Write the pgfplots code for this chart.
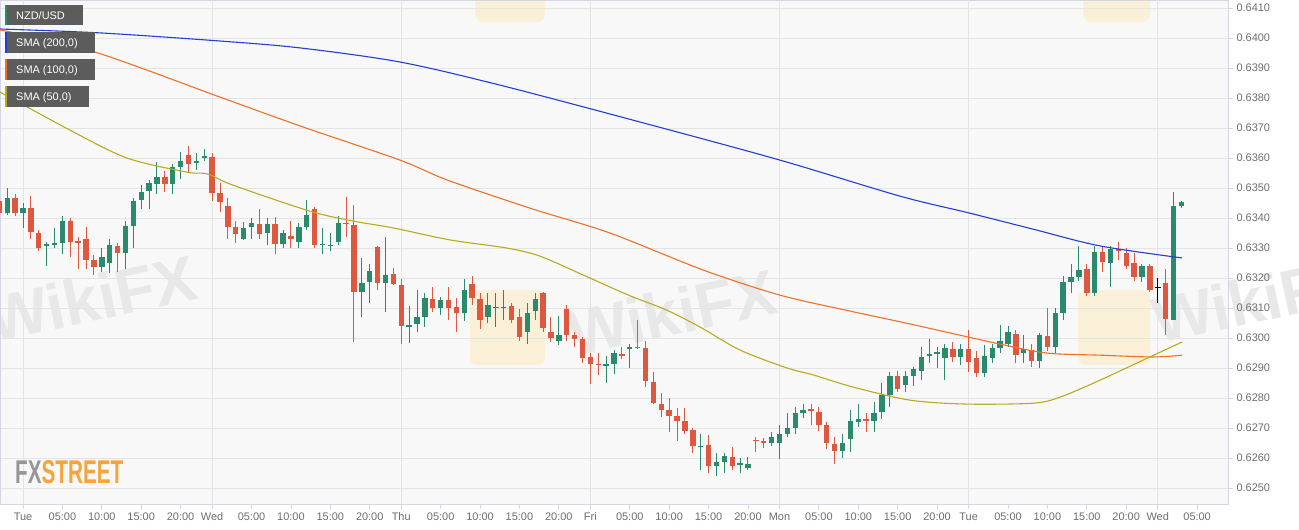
\documentclass[border=0pt]{standalone}
\usepackage{pgfplots}
\pgfplotsset{compat=1.18}
\usepackage{pgfplotstable}
\usepackage{fontspec}
\setmainfont{Liberation Sans}
\setsansfont{Liberation Sans}

\definecolor{cgreen}{RGB}{42,138,110}
\definecolor{cred}{RGB}{222,88,64}
\definecolor{sma200}{RGB}{35,62,215}
\definecolor{sma100}{RGB}{240,112,40}
\definecolor{sma50}{RGB}{186,170,32}
\definecolor{plotbg}{RGB}{248,248,248}
\definecolor{gridcol}{RGB}{228,228,228}
\definecolor{framecol}{RGB}{212,214,228}
\definecolor{tickcol}{RGB}{110,110,110}
\definecolor{legbg}{RGB}{92,92,92}
\definecolor{wmgray}{RGB}{232,232,232}
\definecolor{wmyellow}{RGB}{250,240,215}

% hourly candles, t = hours since Tue 00:00
\pgfplotstableread{
t o h l c
-3 0.63458 0.63466 0.63391 0.63416
-2 0.63416 0.63499 0.63410 0.63466
-1 0.63466 0.63479 0.63408 0.63418
0 0.63416 0.63449 0.63366 0.63432
1 0.63432 0.63474 0.63329 0.63352
2 0.63351 0.63360 0.63290 0.63301
3 0.63306 0.63319 0.63240 0.63312
4 0.63310 0.63368 0.63299 0.63316
5 0.63316 0.63408 0.63279 0.63390
6 0.63391 0.63399 0.63269 0.63321
7 0.63322 0.63338 0.63230 0.63318
8 0.63330 0.63369 0.63230 0.63261
9 0.63261 0.63277 0.63210 0.63238
10 0.63238 0.63299 0.63221 0.63270
11 0.63251 0.63330 0.63218 0.63309
12 0.63307 0.63316 0.63219 0.63284
13 0.63284 0.63390 0.63229 0.63372
14 0.63372 0.63468 0.63299 0.63457
15 0.63459 0.63510 0.63429 0.63488
16 0.63489 0.63527 0.63429 0.63516
17 0.63513 0.63588 0.63480 0.63537
18 0.63536 0.63558 0.63488 0.63513
19 0.63512 0.63579 0.63479 0.63571
20 0.63571 0.63621 0.63529 0.63590
21 0.63610 0.63640 0.63549 0.63581
22 0.63584 0.63618 0.63560 0.63590
23 0.63601 0.63629 0.63590 0.63607
24 0.63604 0.63618 0.63458 0.63482
25 0.63482 0.63516 0.63419 0.63452
26 0.63440 0.63468 0.63329 0.63369
27 0.63369 0.63390 0.63318 0.63346
28 0.63330 0.63388 0.63326 0.63368
29 0.63369 0.63399 0.63330 0.63382
30 0.63380 0.63429 0.63329 0.63347
31 0.63349 0.63399 0.63310 0.63379
32 0.63380 0.63404 0.63279 0.63313
33 0.63313 0.63360 0.63299 0.63349
34 0.63340 0.63390 0.63299 0.63330
35 0.63321 0.63384 0.63299 0.63369
36 0.63369 0.63460 0.63360 0.63410
37 0.63429 0.63436 0.63299 0.63309
38 0.63310 0.63366 0.63280 0.63313
39 0.63307 0.63349 0.63289 0.63311
40 0.63321 0.63408 0.63310 0.63384
41 0.63384 0.63469 0.63338 0.63380
42 0.63377 0.63443 0.62988 0.63154
43 0.63152 0.63266 0.63071 0.63184
44 0.63188 0.63246 0.63118 0.63224
45 0.63304 0.63306 0.63160 0.63182
46 0.63182 0.63338 0.63086 0.63210
47 0.63212 0.63234 0.63176 0.63179
48 0.63177 0.63196 0.62979 0.63041
49 0.63038 0.63108 0.62984 0.63043
50 0.63046 0.63160 0.63019 0.63070
51 0.63069 0.63149 0.63038 0.63132
52 0.63129 0.63169 0.63088 0.63101
53 0.63101 0.63138 0.63077 0.63127
54 0.63127 0.63169 0.63060 0.63101
55 0.63104 0.63132 0.63019 0.63082
56 0.63084 0.63198 0.63058 0.63160
57 0.63180 0.63208 0.63110 0.63132
58 0.63130 0.63149 0.63029 0.63060
59 0.63071 0.63149 0.63049 0.63109
60 0.63100 0.63149 0.63038 0.63103
61 0.63101 0.63160 0.63060 0.63104
62 0.63107 0.63118 0.63049 0.63060
63 0.63071 0.63096 0.62989 0.63004
64 0.63021 0.63116 0.62980 0.63084
65 0.63090 0.63149 0.63060 0.63130
66 0.63149 0.63152 0.63021 0.63032
67 0.63019 0.63069 0.62988 0.62999
68 0.62991 0.63073 0.62978 0.63010
69 0.63096 0.63110 0.62989 0.63010
70 0.63010 0.63019 0.62969 0.62997
71 0.62996 0.63004 0.62918 0.62934
72 0.62936 0.62949 0.62847 0.62913
73 0.62913 0.62949 0.62877 0.62909
74 0.62908 0.62940 0.62849 0.62913
75 0.62913 0.62960 0.62879 0.62949
76 0.62947 0.62969 0.62929 0.62941
77 0.62962 0.62980 0.62899 0.62971
78 0.62969 0.63060 0.62962 0.62966
79 0.62968 0.62990 0.62838 0.62858
80 0.62852 0.62888 0.62780 0.62782
81 0.62780 0.62818 0.62738 0.62760
82 0.62760 0.62799 0.62688 0.62740
83 0.62741 0.62768 0.62658 0.62724
84 0.62723 0.62766 0.62679 0.62690
85 0.62693 0.62699 0.62618 0.62640
86 0.62636 0.62679 0.62560 0.62641
87 0.62643 0.62677 0.62549 0.62574
88 0.62573 0.62618 0.62540 0.62587
89 0.62588 0.62618 0.62551 0.62607
90 0.62604 0.62638 0.62560 0.62573
91 0.62577 0.62599 0.62551 0.62582
92 0.62566 0.62604 0.62560 0.62580
93 0.62661 0.62671 0.62621 0.62658
94 0.62656 0.62666 0.62634 0.62651
95 0.62651 0.62688 0.62640 0.62671
96 0.62651 0.62710 0.62596 0.62679
97 0.62680 0.62749 0.62671 0.62701
98 0.62701 0.62769 0.62679 0.62749
99 0.62751 0.62779 0.62732 0.62760
100 0.62762 0.62779 0.62710 0.62756
101 0.62752 0.62771 0.62690 0.62710
102 0.62710 0.62721 0.62629 0.62651
103 0.62648 0.62671 0.62579 0.62624
104 0.62624 0.62680 0.62601 0.62651
105 0.62662 0.62759 0.62619 0.62723
106 0.62721 0.62779 0.62704 0.62729
107 0.62730 0.62749 0.62688 0.62724
108 0.62723 0.62786 0.62688 0.62749
109 0.62754 0.62849 0.62730 0.62809
110 0.62809 0.62888 0.62769 0.62873
111 0.62873 0.62890 0.62821 0.62830
112 0.62845 0.62889 0.62819 0.62872
113 0.62873 0.62904 0.62840 0.62897
114 0.62891 0.62971 0.62860 0.62936
115 0.62940 0.62996 0.62918 0.62946
116 0.62947 0.62971 0.62899 0.62952
117 0.62932 0.62980 0.62860 0.62966
118 0.62962 0.62988 0.62919 0.62936
119 0.62938 0.62980 0.62910 0.62962
120 0.62962 0.63027 0.62888 0.62919
121 0.62932 0.62958 0.62869 0.62882
122 0.62882 0.62977 0.62871 0.62940
123 0.62932 0.62980 0.62918 0.62966
124 0.62966 0.63043 0.62949 0.62990
125 0.62980 0.63040 0.62971 0.63021
126 0.63013 0.63027 0.62918 0.62943
127 0.62949 0.63010 0.62918 0.62962
128 0.62960 0.62980 0.62904 0.62923
129 0.62924 0.63018 0.62899 0.63010
130 0.63007 0.63099 0.62958 0.62971
131 0.62971 0.63099 0.62949 0.63084
132 0.63084 0.63207 0.63060 0.63188
133 0.63188 0.63247 0.63151 0.63202
134 0.63204 0.63307 0.63191 0.63227
135 0.63229 0.63247 0.63140 0.63151
136 0.63149 0.63307 0.63140 0.63287
137 0.63288 0.63307 0.63221 0.63254
138 0.63251 0.63307 0.63169 0.63296
139 0.63296 0.63321 0.63260 0.63290
140 0.63284 0.63299 0.63229 0.63241
141 0.63249 0.63284 0.63190 0.63204
142 0.63204 0.63247 0.63188 0.63241
143 0.63240 0.63247 0.63154 0.63160
145 0.63184 0.63230 0.63010 0.63063
146 0.63060 0.63488 0.63060 0.63440
147 0.63440 0.63458 0.63434 0.63452
}\candles

\begin{document}
\begin{tikzpicture}[x=1bp,y=1bp]
\useasboundingbox (0,-26) rectangle (1299,504);
\fill[white] (0,-26) rectangle (1299,504);
\fill[plotbg] (0,0) rectangle (1228,504);

% watermarks
\fill[wmyellow, rounded corners=8bp] (470,139) rectangle (545,214);
\fill[wmyellow, rounded corners=8bp] (1078,139) rectangle (1150,214);
\fill[wmyellow, rounded corners=8bp] (475,482) rectangle (545,534);
\fill[wmyellow, rounded corners=8bp] (1083,482) rectangle (1150,534);
\node[text=wmgray, font=\bfseries\fontsize{64}{64}\selectfont, rotate=12] at (92,206) {WikiFX};
\node[text=wmgray, font=\bfseries\fontsize{64}{64}\selectfont, rotate=12] at (672,192) {WikiFX};
\node[text=wmgray, font=\bfseries\fontsize{64}{64}\selectfont, rotate=12, anchor=west] at (1150,182) {WikiFX};

\begin{axis}[
  anchor=south west,
  width=1228bp, height=504bp, scale only axis,
  xmin=-2.919, xmax=152.92,
  ymin=0.62447, ymax=0.641267,
  axis line style={draw=framecol},
  tick align=outside, major tick length=5bp,
  tick style={draw=framecol, line width=0.8bp},
  xtick pos=bottom, ytick pos=right, yticklabel pos=right,
  xtick={0,5,10,15,20,24,29,34,39,44,48,53,58,63,68,72,77,82,87,92,96,101,106,111,116,120,125,130,135,140,144,149},
  xticklabels={Tue,05:00,10:00,15:00,20:00,Wed,05:00,10:00,15:00,20:00,Thu,05:00,10:00,15:00,20:00,Fri,05:00,10:00,15:00,20:00,Mon,05:00,10:00,15:00,20:00,Tue,05:00,10:00,15:00,20:00,Wed,05:00},
  ytick={0.625,0.626,0.627,0.628,0.629,0.630,0.631,0.632,0.633,0.634,0.635,0.636,0.637,0.638,0.639,0.640,0.641},
  yticklabels={0.6250,0.6260,0.6270,0.6280,0.6290,0.6300,0.6310,0.6320,0.6330,0.6340,0.6350,0.6360,0.6370,0.6380,0.6390,0.6400,0.6410},
  ymajorgrids, grid style={draw=gridcol, line width=0.8bp},
  extra x ticks={0,24,48,72,96,120,144},
  extra x tick labels={},
  extra x tick style={grid=major, major tick length=0pt},
  ticklabel style={font=\fontsize{11}{13}\selectfont, text=tickcol},
  scaled y ticks=false,
]

% wicks
\addplot[draw=none, mark=none, forget plot,
  restrict expr to domain={\thisrow{c}-\thisrow{o}}{0:1},
  error bars/.cd, y dir=plus, y explicit, error mark=none,
  error bar style={draw=cgreen, line width=1bp}]
  table[x=t, y=l, y error plus expr=\thisrow{h}-\thisrow{l}] {\candles};
\addplot[draw=none, mark=none, forget plot,
  restrict expr to domain={\thisrow{o}-\thisrow{c}}{0:1},
  error bars/.cd, y dir=plus, y explicit, error mark=none,
  error bar style={draw=cred, line width=1bp}]
  table[x=t, y=l, y error plus expr=\thisrow{h}-\thisrow{l}] {\candles};
% bodies
\addplot[draw=none, mark=none, forget plot,
  restrict expr to domain={\thisrow{c}-\thisrow{o}}{0:1},
  error bars/.cd, y dir=plus, y explicit, error mark=none,
  error bar style={draw=cgreen, line width=5.4bp}]
  table[x=t, y=o, y error plus expr=\thisrow{c}-\thisrow{o}] {\candles};
\addplot[draw=none, mark=none, forget plot,
  restrict expr to domain={\thisrow{o}-\thisrow{c}}{0:1},
  error bars/.cd, y dir=plus, y explicit, error mark=none,
  error bar style={draw=cred, line width=5.4bp}]
  table[x=t, y=c, y error plus expr=\thisrow{o}-\thisrow{c}] {\candles};
% the open=close candle (Wed 00:00)
\addplot[draw=none, mark=none, forget plot,
  error bars/.cd, y dir=plus, y explicit, error mark=none,
  error bar style={draw=black, line width=1.2bp}]
  coordinates {(144,0.63118) += (0,0.00081)};
\addplot[black, only marks, mark=-, mark size=3bp, mark options={line width=1.4bp}, forget plot]
  coordinates {(144,0.63169)};

% SMA (200,0)
\addplot[sma200, line width=1.1bp, smooth] coordinates {
(-2.92,0.64030) (9.77,0.64017) (25.0,0.63990) (35.15,0.63967) (47.84,0.63920)
(60.53,0.63843) (78.30,0.63720) (96.07,0.63593) (111.29,0.63473) (120.05,0.63417)
(128.17,0.63363) (136.68,0.63307) (147.08,0.63267)};
% SMA (100,0)
\addplot[sma100, line width=1.1bp, smooth] coordinates {
(-2.92,0.64027) (9.14,0.63953) (25.0,0.63803) (35.15,0.63707) (47.84,0.63593)
(53.81,0.63527) (64.34,0.63433) (74.49,0.63350) (86.29,0.63227) (96.07,0.63143)
(104.95,0.63090) (112.56,0.63047) (123.98,0.62980) (129.95,0.62950) (136.68,0.62943)
(143.40,0.62937) (147.08,0.62943)};
% SMA (50,0)
\addplot[sma50, line width=1.1bp, smooth] coordinates {
(-2.92,0.63820) (5.96,0.63693) (13.2,0.63600) (20.8,0.63553) (23.4,0.63547)
(26.6,0.63510) (36.4,0.63423) (41.9,0.63390) (47.0,0.63367) (54.2,0.63327)
(61.4,0.63300) (65.6,0.63273) (71.1,0.63210) (74.5,0.63170) (77.4,0.63137)
(81.7,0.63093) (85.9,0.63037) (91.0,0.62960) (97.0,0.62900) (100.3,0.62877)
(105.3,0.62837) (112.6,0.62793) (119.8,0.62780) (128.2,0.62783) (131.6,0.62803)
(136.7,0.62860) (143.0,0.62937) (147.1,0.62987)};
\end{axis}

% indicator boxes
\begin{scope}[font=\fontsize{11}{13}\selectfont]
\fill[legbg] (5,479) rectangle (83,499);  \fill[cgreen] (5,479) rectangle (7,499);
\node[anchor=base west, inner sep=0, text=white] at (16,484) {NZD/USD};
\fill[legbg] (5,451) rectangle (95,472);  \fill[sma200] (5,451) rectangle (7,472);
\node[anchor=base west, inner sep=0, text=white] at (16,457.3) {SMA (200,0)};
\fill[legbg] (5,424) rectangle (95,445);  \fill[sma100] (5,424) rectangle (7,445);
\node[anchor=base west, inner sep=0, text=white] at (16,430) {SMA (100,0)};
\fill[legbg] (5,397) rectangle (89,418);  \fill[sma50] (5,397) rectangle (7,418);
\node[anchor=base west, inner sep=0, text=white] at (16,403.3) {SMA (50,0)};
\end{scope}

% logo
\node[anchor=base west, inner sep=0, xscale=0.63, font=\bfseries\fontsize{33}{33}\selectfont] at (15,20)
  {\textcolor[RGB]{150,150,150}{FX}\textcolor[RGB]{245,165,60}{STREET}};
\end{tikzpicture}
\end{document}
